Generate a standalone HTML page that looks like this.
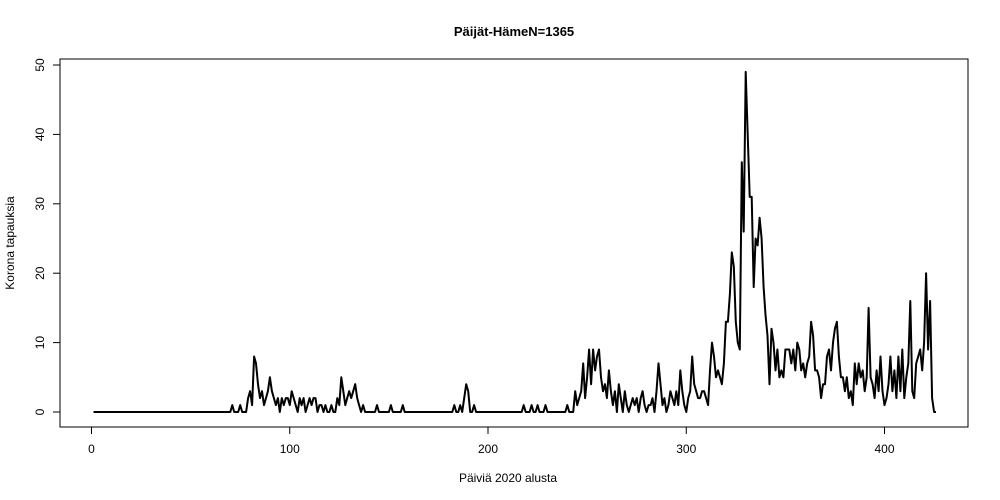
<!DOCTYPE html>
<html><head><meta charset="utf-8"><style>
body{margin:0;background:#fff}
svg{display:block;font-family:"Liberation Sans",Arial,sans-serif}
</style></head><body>
<svg id="chart" width="1000" height="500">
<rect x="60" y="59" width="908" height="368" fill="none" stroke="#000"/>
<text x="514" y="36" text-anchor="middle" font-weight="bold" font-size="13">Päijät-HämeN=1365</text>
<text x="508" y="482" text-anchor="middle" font-size="12">Päiviä 2020 alusta</text>
<text transform="translate(14,243) rotate(-90)" text-anchor="middle" font-size="12">Korona tapauksia</text>
<g id="axes"></g>
<polyline id="series" fill="none" stroke="#000" stroke-width="2" stroke-linejoin="round"/>
</svg>
<script>
function zeros(n){return Array(n).fill(0);}
const xTicks=[0,100,200,300,400];
const yTicks=[0,10,20,30,40,50];
const cases=[].concat(zeros(70),
[1,0,0,0,1,0,0,0,2,3,1,8,7,4,2,3,1,2,3,5,3,2,1,2,0,2,1,2,2,1,
3,2,1,0,2,1,2,0,1,2,1,2,2,0,1,1,0,1,0,0,1,0,0,2,1,5,3,1,2,3,2,3,4,2,1,0,1,0,0,0,0,0,0,1,0],
zeros(5),[1],zeros(5),[1],zeros(25),
[1,0,0,1,0,2,4,3,0,0,1,0],zeros(23),
[1,0,0,0,1,0,0,1,0,0,0,1,0,0,0,0,0,0,0,0,0,0,1,0,0,0],
[3,1,2,3,7,2,5,9,4,9,6,8,9,5,3,4,2,6,3,1,3,0,4,2,0,3,1,0,1,2,1,2,0,2,3,1,0,1,1,2,0,3,7,4,1,2,0,1,3,2,1,3,1,6,3,1,0,2,3,8,4,3,2,2,3,3,2,1,6,10,8,5,6,5,4,7,13,13,17,23,21,13,10,9,36,26,49,40,31,31,18,25,24,28,25,18,14,11,4,12,10,6,9,5,6,5,9,9,9,7,9,6,10,9,6,7,5,7,8,13,11,6,6,5,2,4,4,8,9,6,10,12,13,8,5,5,3,5,2,3,1,7,4,7,5,6,3,5,15,5,4,2,6,3,8,3,1,2,4,8,3,6,2,8,3,9,2,5,7,16,3,2,7,8,9,6,10,20,9,16,2,0,0]);
const X=d=>91.5+d*1.9825, Y=v=>412-v*6.94;
const ax=document.getElementById('axes'),NS='http://www.w3.org/2000/svg';
function mk(t,a){const e=document.createElementNS(NS,t);for(const k in a)e.setAttribute(k,a[k]);ax.appendChild(e);return e;}
let e=mk('line',{x1:X(0),x2:X(400),y1:427,y2:427,stroke:'#000'});


e=mk('line',{x1:60,x2:60,y1:Y(0),y2:Y(50),stroke:'#000'});


xTicks.forEach(t=>{
 let l=mk('line',{x1:X(t),x2:X(t),y1:427,y2:434,stroke:'#000'});
 
 
 let s=mk('text',{x:X(t),y:453,'text-anchor':'middle','font-size':12});s.textContent=t;
 
 
});
yTicks.forEach(t=>{
 let l=mk('line',{x1:53,x2:60,y1:Y(t),y2:Y(t),stroke:'#000'});
 
 
 let s=mk('text',{transform:`translate(44,${Y(t)}) rotate(-90)`,'text-anchor':'middle','font-size':12});s.textContent=t;
 
 
});
document.getElementById('series').setAttribute('points',cases.map((v,i)=>X(i+1).toFixed(1)+','+Y(v).toFixed(1)).join(' '));
</script>
</body></html>
